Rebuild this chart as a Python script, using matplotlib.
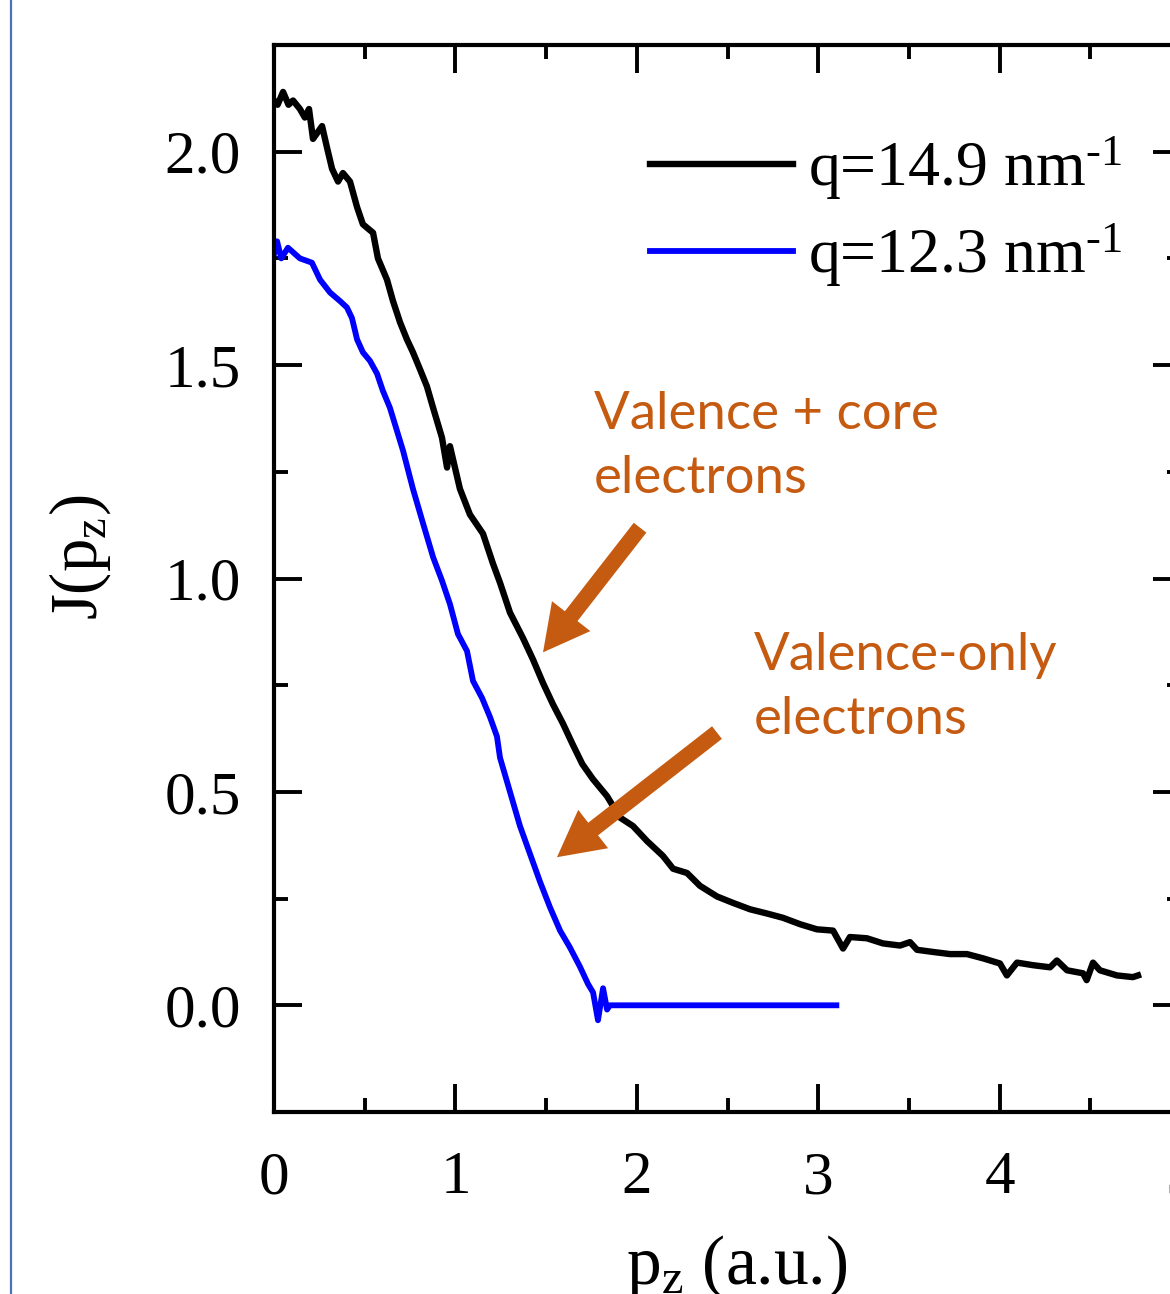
import matplotlib
matplotlib.use("Agg")
import matplotlib.pyplot as plt
from matplotlib.ticker import MultipleLocator, FormatStrFormatter
from matplotlib.lines import Line2D

plt.rcParams['font.family'] = ['Liberation Serif', 'DejaVu Serif']
plt.rcParams['mathtext.fontset'] = 'custom'
plt.rcParams['mathtext.rm'] = 'Liberation Serif'
plt.rcParams['mathtext.it'] = 'Liberation Serif:italic'

# ---- data ----
pz_q149 = [0.00, 0.02, 0.05, 0.08, 0.105, 0.143, 0.17, 0.193, 0.215, 0.265, 0.292,
           0.32, 0.353, 0.38, 0.419, 0.458, 0.49, 0.546, 0.573, 0.623, 0.656,
           0.695, 0.733, 0.766, 0.805, 0.843, 0.877, 0.926, 0.954, 0.97, 1.025,
           1.08, 1.152, 1.207, 1.246, 1.301, 1.373, 1.428, 1.483, 1.538, 1.593,
           1.648, 1.70, 1.758, 1.836, 1.907, 1.979, 2.056, 2.144, 2.20, 2.277,
           2.348, 2.442, 2.53, 2.624, 2.718, 2.806, 2.90, 2.993, 3.082, 3.137,
           3.175, 3.269, 3.357, 3.451, 3.506, 3.545, 3.633, 3.727, 3.82, 3.909,
           4.002, 4.04, 4.096, 4.184, 4.278, 4.316, 4.372, 4.46, 4.48, 4.515,
           4.553, 4.647, 4.735, 4.763]
J_q149 = [2.12, 2.11, 2.14, 2.11, 2.12, 2.10, 2.08, 2.10, 2.03, 2.06, 2.01,
          1.96, 1.93, 1.95, 1.93, 1.87, 1.83, 1.81, 1.75, 1.70, 1.65,
          1.60, 1.56, 1.53, 1.49, 1.45, 1.40, 1.33, 1.26, 1.31, 1.21,
          1.15, 1.105, 1.035, 0.99, 0.92, 0.86, 0.81, 0.755, 0.705, 0.66,
          0.61, 0.565, 0.53, 0.49, 0.44, 0.42, 0.385, 0.35, 0.32, 0.31,
          0.28, 0.255, 0.24, 0.225, 0.215, 0.205, 0.19, 0.178, 0.175, 0.133,
          0.16, 0.157, 0.145, 0.14, 0.148, 0.13, 0.125, 0.12, 0.12, 0.11,
          0.098, 0.07, 0.10, 0.094, 0.089, 0.105, 0.082, 0.075, 0.059, 0.10,
          0.082, 0.07, 0.066, 0.07]

pz_q123 = [0.00, 0.017, 0.04, 0.077, 0.143, 0.209, 0.254, 0.309, 0.364, 0.402,
           0.43, 0.458, 0.49, 0.529, 0.568, 0.60, 0.639, 0.711, 0.766, 0.821,
           0.877, 0.926, 0.97, 1.014, 1.064, 1.097, 1.147, 1.191, 1.229, 1.246,
           1.301, 1.356, 1.411, 1.466, 1.521, 1.577, 1.632, 1.687, 1.731, 1.759,
           1.786, 1.814, 1.836, 1.852, 3.10]
J_q123 = [1.76, 1.79, 1.75, 1.775, 1.75, 1.74, 1.70, 1.67, 1.65, 1.635,
          1.61, 1.56, 1.53, 1.51, 1.48, 1.44, 1.40, 1.30, 1.21, 1.13,
          1.05, 0.995, 0.94, 0.87, 0.83, 0.76, 0.72, 0.675, 0.63, 0.58,
          0.50, 0.42, 0.355, 0.29, 0.23, 0.175, 0.135, 0.09, 0.05, 0.03,
          -0.035, 0.04, -0.01, 0.0, 0.0]

labels = [r"q=14.9 nm$^{\text{-}1}$", r"q=12.3 nm$^{\text{-}1}$"]
xticks = [0, 1, 2, 3, 4, 5]
yticks = [0.0, 0.5, 1.0, 1.5, 2.0]

orange = '#C55A11'

fig = plt.figure(figsize=(11.7, 12.94), dpi=100)
ax = fig.add_axes([274/1170, 1-1112/1294, (1181-274)/1170, (1112-45)/1294])

ax.plot(pz_q149, J_q149, color='black', lw=4.6, label=labels[0], solid_joinstyle='round')
ax.plot(pz_q123, J_q123, color='#0000FF', lw=4.2, label=labels[1], solid_joinstyle='round')

ax.set_xlim(0, 5)
ax.set_ylim(-0.25, 2.25)
ax.set_xticks(xticks)
ax.set_yticks(yticks)
ax.xaxis.set_minor_locator(MultipleLocator(0.5))
ax.yaxis.set_minor_locator(MultipleLocator(0.25))
ax.yaxis.set_major_formatter(FormatStrFormatter('%.1f'))

for s in ax.spines.values():
    s.set_linewidth(3)
ax.tick_params(which='both', direction='in', top=True, right=True, width=2.8,
               labelsize=44)
ax.tick_params(which='major', length=20)
ax.tick_params(which='minor', length=10)
ax.tick_params(axis='x', which='major', pad=28)
ax.tick_params(axis='y', which='major', pad=24)

ax.set_xlabel(r"p$_\mathrm{z}$ (a.u.)", fontsize=50)
ax.set_ylabel(r"J(p$_\mathrm{z}$)", fontsize=48)
ax.xaxis.set_label_coords(0.51, -0.113)
ax.yaxis.set_label_coords(-0.177, 0.52)

leg = ax.legend(loc='upper left', bbox_to_anchor=(0.4146, 0.916), frameon=False,
                fontsize=46, handlelength=2.24, handletextpad=0.24,
                labelspacing=0.3, borderpad=0, borderaxespad=0)

ax.text(1.764, 1.31, "Valence + core\nelectrons", color=orange, fontsize=38,
        family='Lato', ha='left', va='center', linespacing=1.45)
ax.text(2.646, 0.745, "Valence-only\nelectrons", color=orange, fontsize=38,
        family='Lato', ha='left', va='center', linespacing=1.45)

astyle = 'simple,head_length=3.3,head_width=3.5,tail_width=1.15'
ax.annotate('', xy=(1.483, 0.827), xytext=(2.018, 1.119),
            arrowprops=dict(arrowstyle=astyle, color=orange, mutation_scale=10,
                            shrinkA=0, shrinkB=0, lw=0))
ax.annotate('', xy=(1.56, 0.347), xytext=(2.442, 0.639),
            arrowprops=dict(arrowstyle=astyle, color=orange, mutation_scale=10,
                            shrinkA=0, shrinkB=0, lw=0))

fig.add_artist(Line2D([11/1170, 11/1170], [0, 1], transform=fig.transFigure,
                      color='#4A72B8', lw=1.6))

fig.savefig('out.png', dpi=100)
